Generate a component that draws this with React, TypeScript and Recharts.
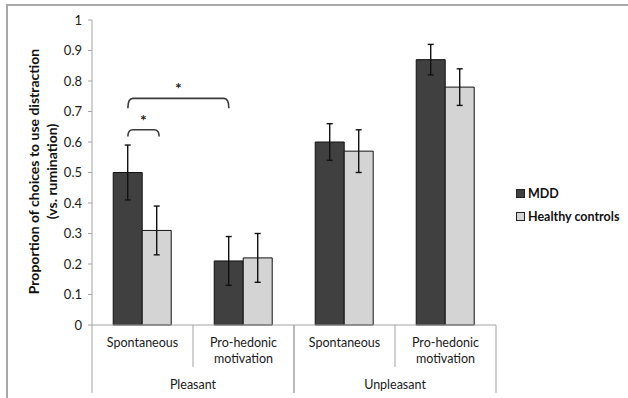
import React from "react";
import {
  BarChart,
  Bar,
  XAxis,
  YAxis,
  ErrorBar,
  Customized,
} from "recharts";

const groups = ["Pleasant", "Pleasant", "Unpleasant", "Unpleasant"];
const conditions = [
  ["Spontaneous"],
  ["Pro-hedonic", "motivation"],
  ["Spontaneous"],
  ["Pro-hedonic", "motivation"],
];
const mddValues = [0.5, 0.21, 0.6, 0.87];
const mddErrors = [0.09, 0.08, 0.06, 0.05];
const controlValues = [0.31, 0.22, 0.57, 0.78];
const controlErrors = [0.08, 0.08, 0.07, 0.06];
const yTicks = [0, 0.1, 0.2, 0.3, 0.4, 0.5, 0.6, 0.7, 0.8, 0.9, 1];

// significance brackets: [category, series] endpoints, height of the bar
const brackets = [
  { from: [0, 0], to: [0, 1], level: 0.64, drop: 0.022 },
  { from: [0, 0], to: [1, 0], level: 0.743, drop: 0.032 },
];

const series = [
  { key: "mdd", err: "mddErr", name: "MDD", fill: "#404040" },
  { key: "hc", err: "hcErr", name: "Healthy controls", fill: "#d4d4d4" },
];

const data = groups.map((g, i) => ({
  id: `${g}-${i}`,
  mdd: mddValues[i],
  mddErr: mddErrors[i],
  hc: controlValues[i],
  hcErr: controlErrors[i],
}));

const W = 628;
const H = 398;
const M = { top: 20, right: 132, bottom: 0, left: 0 };
const Y_W = 92;
const X_H = 73;
const PLOT_W = W - M.right - Y_W;
const PLOT_H = H - M.top - X_H;
const CAT_W = PLOT_W / groups.length;
const CAT_GAP = 0.21;
const FONT = "Lato, 'Open Sans', sans-serif";
const AXIS = "#a3a3a3";

function CategoryTick(props: any) {
  const { x, y, payload } = props;
  const i = payload.index;
  const left = x - CAT_W / 2;
  const lines = conditions[i];
  const groupStart = i === 0 || groups[i - 1] !== groups[i];
  const groupEnd = i === groups.length - 1 || groups[i + 1] !== groups[i];
  const span = groups.filter((g) => g === groups[i]).length;
  return (
    <g>
      <line x1={left} y1={y} x2={left} y2={y + (groupStart ? 68 : 42)} stroke={AXIS} />
      {groupEnd && (
        <line x1={left + CAT_W} y1={y} x2={left + CAT_W} y2={y + 68} stroke={AXIS} />
      )}
      {lines.map((t, k) => (
        <text key={k} x={x} y={y + 22 + k * 16} textAnchor="middle" fontSize={12.5} fill="#1a1a1a" fontFamily={FONT}>
          {t}
        </text>
      ))}
      {groupStart && (
        <text x={left + (CAT_W * span) / 2} y={y + 64} textAnchor="middle" fontSize={12.5} fill="#1a1a1a" fontFamily={FONT}>
          {groups[i]}
        </text>
      )}
    </g>
  );
}

function YTitle() {
  const cy = M.top + PLOT_H / 2 - 1;
  return (
    <g fontFamily={FONT} fontWeight={700} fontSize={14} fill="#111">
      <text x={33} y={cy} textAnchor="middle" dominantBaseline="central" transform={`rotate(-90 33 ${cy})`}>
        Proportion of choices to use distraction
      </text>
      <text x={51} y={cy} textAnchor="middle" dominantBaseline="central" transform={`rotate(-90 51 ${cy})`}>
        (vs. rumination)
      </text>
    </g>
  );
}

function Brackets() {
  const gap = CAT_W * CAT_GAP;
  const barW = (CAT_W - 2 * gap) / series.length;
  const cx = ([c, s]: number[]) => Y_W + c * CAT_W + gap + barW * (s + 0.5);
  const cy = (v: number) => M.top + (1 - v) * PLOT_H;
  return (
    <g>
      {brackets.map((b, i) => {
        const x1 = cx(b.from);
        const x2 = cx(b.to) + (b.to[0] === b.from[0] ? 2 : 0);
        const top = cy(b.level);
        const end = cy(b.level - b.drop);
        const r = 5;
        return (
          <g key={i}>
            <path
              d={`M${x1},${end} Q${x1},${top} ${x1 + r},${top} L${x2 - r},${top} Q${x2},${top} ${x2},${end}`}
              fill="none"
              stroke="#3a3a3a"
              strokeWidth={1.6}
            />
            <text x={(x1 + x2) / 2} y={top - 4} textAnchor="middle" fontSize={16} fontWeight={700} fill="#222" fontFamily={FONT}>
              *
            </text>
          </g>
        );
      })}
    </g>
  );
}

export default function App() {
  return (
    <div style={{ position: "absolute", left: 0, top: 0, width: W, height: H, background: "#fff", overflow: "hidden" }}>
      <div
        style={{
          position: "absolute",
          left: 6,
          top: 4,
          width: W,
          height: H,
          borderTop: "2px solid #a8a8a8",
          borderLeft: "2px solid #a8a8a8",
        }}
      />
      <BarChart
        width={W}
        height={H}
        data={data}
        margin={M}
        barCategoryGap={`${CAT_GAP * 100}%`}
        barGap={0}
        style={{ position: "absolute", left: 0, top: 0 }}
      >
        <XAxis
          dataKey="id"
          height={X_H}
          tick={<CategoryTick />}
          tickLine={false}
          tickSize={0}
          tickMargin={0}
          axisLine={{ stroke: AXIS }}
          interval={0}
        />
        <YAxis
          width={Y_W}
          domain={[0, 1]}
          ticks={yTicks}
          tickSize={4}
          tickMargin={6}
          tickLine={{ stroke: AXIS }}
          axisLine={{ stroke: AXIS }}
          tick={{ fill: "#1a1a1a", fontSize: 13, fontFamily: FONT }}
          label={<YTitle />}
        />
        {series.map((s) => (
          <Bar key={s.key} dataKey={s.key} name={s.name} fill={s.fill} stroke="#111" strokeWidth={1} isAnimationActive={false}>
            <ErrorBar dataKey={s.err} width={3} stroke="#111" strokeWidth={1.4} />
          </Bar>
        ))}
        <Customized component={<Brackets />} />
      </BarChart>
      <div style={{ position: "absolute", left: 516, top: 182, fontFamily: FONT, fontWeight: 700, fontSize: 12.5, color: "#111" }}>
        {series.map((s) => (
          <div key={s.key} style={{ display: "flex", alignItems: "center", height: 23 }}>
            <span style={{ width: 7, height: 7, background: s.fill, border: "1px solid #222", marginRight: 3 }} />
            {s.name}
          </div>
        ))}
      </div>
    </div>
  );
}
